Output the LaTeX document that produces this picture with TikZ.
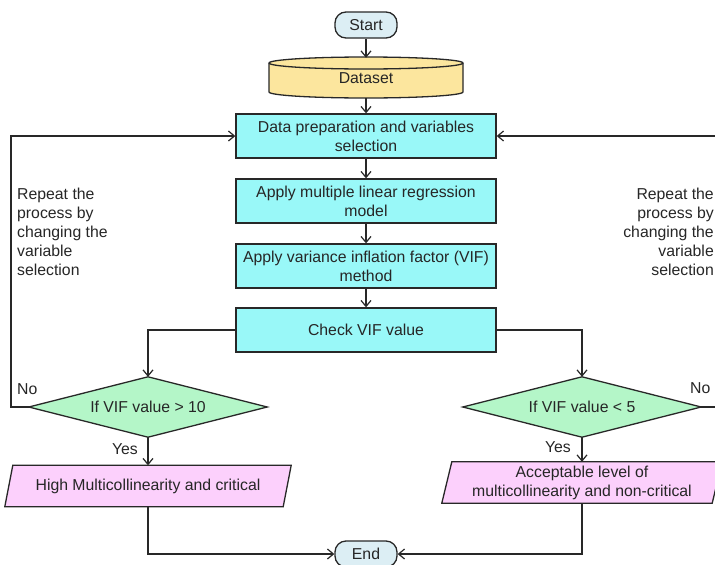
\documentclass[tikz,border=0pt]{standalone}
\usepackage{fontspec}
\setmainfont{Liberation Sans}
\usetikzlibrary{shapes.geometric,arrows.meta,backgrounds}
\definecolor{boxcyan}{RGB}{153,248,248}
\definecolor{startblue}{RGB}{220,238,244}
\definecolor{datayellow}{RGB}{252,230,158}
\definecolor{diagreen}{RGB}{180,246,200}
\definecolor{parapink}{RGB}{252,208,252}
\definecolor{edgecol}{RGB}{40,40,40}
\begin{document}
\begin{tikzpicture}[x=1pt,y=-1pt,
  font=\fontsize{15.8}{19}\selectfont, text=black!85,
  every node/.style={inner sep=0pt},
  procbox/.style={draw=edgecol, line width=1.3pt, fill=boxcyan, minimum width=260pt, minimum height=44pt, align=center},
  term/.style={draw=edgecol, line width=1.3pt, fill=startblue, rounded corners=11pt, minimum width=62pt, minimum height=26pt},
  decisiontext/.style={minimum width=238pt, minimum height=60pt},
  diashape/.style={draw=edgecol, line width=1.3pt, fill=diagreen},
  paratext/.style={minimum height=41pt, align=center},
  parashape/.style={draw=edgecol, line width=1.3pt, fill=parapink},
  datashape/.style={draw=edgecol, line width=1.3pt, fill=datayellow},
  flow/.style={draw=edgecol, line width=1.3pt, -{Straight Barb[length=6pt,width=10pt,line width=1.2pt]}},
  link/.style={draw=edgecol, line width=1.3pt}
]
\useasboundingbox (0,0) rectangle (715,565);

% terminals and data
\node[term] (start) at (366,25) {Start};
\node[minimum width=194pt, minimum height=40pt] (data) at (366,78) {Dataset};
\begin{scope}[on background layer]
  \path[datashape] (269,63) -- (269,92) arc[start angle=180, end angle=0, x radius=97, y radius=6]
    -- (463,63) arc[start angle=0, end angle=-180, x radius=97, y radius=6] -- cycle;
  \draw[link] (269,63) arc[start angle=180, end angle=0, x radius=97, y radius=6];
\end{scope}

% process boxes
\node[procbox] (prep) at (366,136) {Data preparation and variables\\selection};
\node[procbox] (mlr) at (366,201) {Apply multiple linear regression\\model};
\node[procbox] (vif) at (366,266) {Apply variance inflation factor (VIF)\\method};
\node[procbox] (check) at (366,330) {Check VIF value};

% decisions
\node[decisiontext] (d1) at (148,407) {If VIF value > 10};
\node[decisiontext] (d2) at (582,407) {If VIF value < 5};
\begin{scope}[on background layer]
  \path[diashape] (d1.north) -- (d1.east) -- (d1.south) -- (d1.west) -- cycle;
  \path[diashape] (d2.north) -- (d2.east) -- (d2.south) -- (d2.west) -- cycle;
\end{scope}

% outputs
\node[paratext, minimum width=278pt] (p1) at (148,486) {High Multicollinearity and critical};
\node[paratext, minimum width=270pt] (p2) at (582,482.5) {Acceptable level of\\multicollinearity and non-critical};
\begin{scope}[on background layer]
  \path[parashape] ([xshift=4pt]p1.north west) -- ([xshift=4pt]p1.north east)
    -- ([xshift=-4pt]p1.south east) -- ([xshift=-4pt]p1.south west) -- cycle;
  \path[parashape] ([xshift=5pt]p2.north west) -- ([xshift=5pt]p2.north east)
    -- ([xshift=-5pt]p2.south east) -- ([xshift=-5pt]p2.south west) -- cycle;
\end{scope}

\node[term] (end) at (366,554) {End};

% labels
\node[anchor=west] (no1) at (17,389) {No};
\node[anchor=west] (no2) at (690,388) {No};
\node[anchor=east] (yes1) at (138,449) {Yes};
\node[anchor=east] (yes2) at (571,447) {Yes};
\node[anchor=north west, align=left] (rep1) at (17,188) {Repeat the\\process by\\changing the\\variable\\selection};
\node[anchor=north east, align=right] (rep2) at (714,188) {Repeat the\\process by\\changing the\\variable\\selection};

% loop corners
\coordinate (lc) at (11,136);
\coordinate (rc) at (724,136);

% connectors
\draw[flow] (start) -- (data);
\draw[flow] (data) -- (prep);
\draw[flow] (prep) -- (mlr);
\draw[flow] (mlr) -- (vif);
\draw[flow] (vif) -- (check);
\draw[flow] (check.west) -| (d1.north);
\draw[flow] (check.east) -| (d2.north);
\draw[flow] (d1.south) -- (p1.north);
\draw[flow] (d2.south) -- (p2.north);
\draw[flow] (p1.south) |- (end.west);
\draw[flow] (p2.south) |- (end.east);
\draw[flow] (d1.west) -| (lc) -- (prep.west);
\draw[flow] (d2.east) -| (rc) -- (prep.east);
\end{tikzpicture}
\end{document}
